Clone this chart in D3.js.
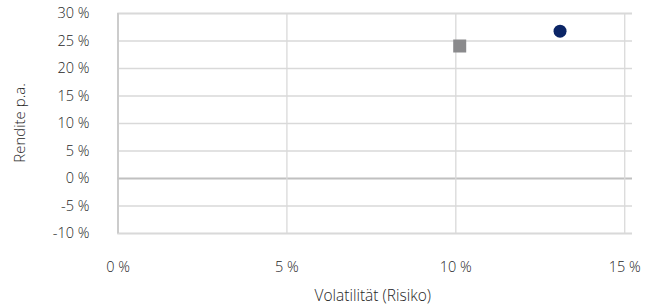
<!DOCTYPE html>
<html>
<head>
<meta charset="utf-8">
<script src="https://cdn.jsdelivr.net/npm/d3@7"></script>
<style>
  body { margin: 0; background: #fff; }
  text { font-family: "Open Sans", sans-serif; font-weight: 300; fill: #262626; }
</style>
</head>
<body>
<div id="chart"></div>
<script>
// data
var seriesNames = ["Fonds", "Vergleich"];
var volatility = [13.1, 10.13];
var returns = [26.7, 24.0];
var yTicks = [-10, -5, 0, 5, 10, 15, 20, 25, 30];
var xTicks = [0, 5, 10, 15];

var width = 658, height = 307;
var margin = {top: 13, left: 117.5, right: 26, bottom: 74};

var svg = d3.select("#chart").append("svg")
    .attr("width", width)
    .attr("height", height);

var x = d3.scaleLinear().domain([0, 15.23]).range([margin.left, width - margin.right]);
var y = d3.scaleLinear().domain([-10, 30]).range([height - margin.bottom, margin.top]);

// horizontal gridlines + y labels
svg.append("g")
    .attr("transform", "translate(" + margin.left + ",0)")
    .call(d3.axisLeft(y).tickValues(yTicks).tickSize(-(x.range()[1] - margin.left)).tickFormat(function (d) { return d + " %"; }))
    .call(function (g) {
        g.select(".domain").attr("stroke", "#c8c8c8").attr("stroke-width", 1.5);
        g.selectAll(".tick line").attr("stroke", function (d) { return d === 0 ? "#c0c0c0" : "#d9d9d9"; })
            .attr("stroke-width", function (d) { return d === 0 ? 2 : 1.3; });
        g.selectAll(".tick text").attr("x", -28).attr("font-size", 14.5);
    });

// vertical gridlines + x labels
svg.append("g")
    .attr("transform", "translate(0," + y(-10) + ")")
    .call(d3.axisBottom(x).tickValues(xTicks).tickSize(-(y(-10) - margin.top)).tickFormat(function (d) { return d + " %"; }))
    .call(function (g) {
        g.select(".domain").remove();
        g.selectAll(".tick line").attr("stroke", function (d) { return d === 0 ? "#c8c8c8" : "#d9d9d9"; })
            .attr("stroke-width", function (d) { return d === 0 ? 1.5 : 1.3; });
        g.selectAll(".tick text").attr("y", 29).attr("font-size", 14.5);
    });

// points
svg.append("circle")
    .attr("cx", x(volatility[0]))
    .attr("cy", y(returns[0]))
    .attr("r", 6.5)
    .attr("fill", "#0b2566");

svg.append("rect")
    .attr("x", x(volatility[1]) - 6.5)
    .attr("y", y(returns[1]) - 6.5)
    .attr("width", 13)
    .attr("height", 13)
    .attr("fill", "#8a8a8c");

// axis titles
svg.append("text")
    .attr("x", (margin.left + x.range()[1]) / 2 - 2)
    .attr("y", 301)
    .attr("text-anchor", "middle")
    .attr("font-size", 15.5)
    .text("Volatilität (Risiko)");

svg.append("text")
    .attr("transform", "translate(25," + ((margin.top + y(-10)) / 2) + ") rotate(-90)")
    .attr("text-anchor", "middle")
    .attr("font-size", 15)
    .text("Rendite p.a.");
</script>
</body>
</html>
